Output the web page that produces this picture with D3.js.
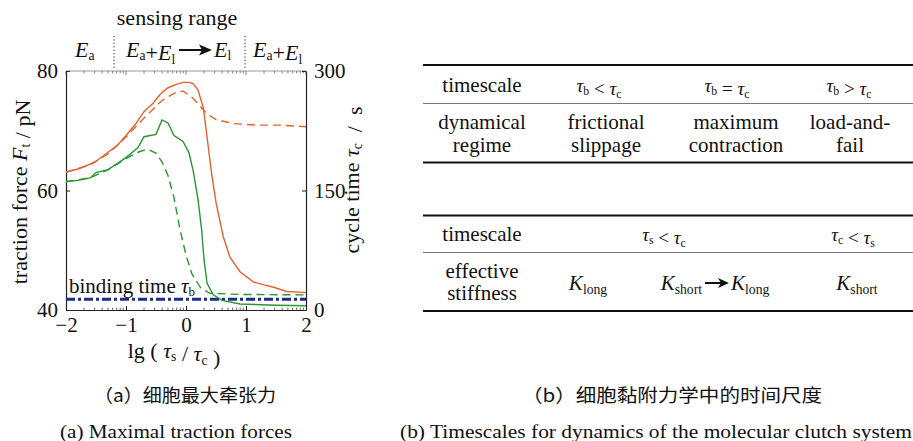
<!DOCTYPE html>
<html>
<head>
<meta charset="utf-8">
<script src="https://cdn.jsdelivr.net/npm/d3@7"></script>
<style>
  body { margin: 0; background: #fff; }
</style>
</head>
<body>
<script>
// ---- data ----
var lgOrange    = [-2,-1.8,-1.6,-1.5,-1.3,-1.15,-1.0,-0.85,-0.7,-0.55,-0.43,-0.3,-0.15,-0.05,0.05,0.12,0.2,0.29,0.34,0.43,0.5,0.62,0.73,0.9,1.12,1.3,1.46,1.68,2]
var forceOrange = [63.1,63.6,64.4,64.9,66.4,67.5,69.2,71.0,73.2,74.6,76.1,77.2,77.8,78.1,78.1,77.9,76.8,73.8,69.8,62.6,58.0,52.3,48.9,46.4,44.7,44.2,43.8,43.1,42.9]

var lgOrangeDash    = [-2,-1.6,-1.3,-1.0,-0.7,-0.4,-0.2,-0.05,0.1,0.2,0.35,0.5,0.8,1.2,1.6,2]
var cycleOrange     = [173,182,196,217,241,263,272,275,267,259,246,239,234,232,232,230]

var lgGreen    = [-2,-1.8,-1.6,-1.5,-1.3,-1.0,-0.8,-0.7,-0.5,-0.4,-0.3,-0.2,-0.05,0.05,0.12,0.2,0.26,0.3,0.35,0.45,0.6,0.9,1.5,2]
var forceGreen = [61.5,61.7,62.1,63.0,63.5,65.5,67.2,69.0,69.4,71.8,71.3,69.2,68.2,66.3,63.3,58.5,53.5,48.5,44.5,42.6,41.6,41.0,40.8,40.7]

var lgGreenDash = [-2,-1.6,-1.3,-1.0,-0.8,-0.65,-0.5,-0.4,-0.3,-0.2,-0.1,0,0.1,0.25,0.4,0.9,2]
var cycleGreen  = [161,166,176,190,198,202,197,186,169,141,101,69,45,27,21,19.5,19]

var lgBinding = [-2, 2]
var bindingTime = [13.5, 13.5]

var xTicks = [-2,-1,0,1,2]
var yLeftTicks = [40,60,80]
var yRightTicks = [0,150,300]

// table contents
var table1Rows = [["dynamical","regime"], ["frictional","slippage"], ["maximum","contraction"], ["load-and-","fail"]]

var SERIF = "'Liberation Serif', 'Times New Roman', Times, serif"
var NB = "\u00a0"
var W = 913, H = 441
var svg = d3.select("body").append("svg").attr("width", W).attr("height", H)
    .style("font-family", SERIF)

var x  = d3.scaleLinear().domain([-2, 2]).range([66, 306])
var yL = d3.scaleLinear().domain([40, 80]).range([310, 71])
var yR = d3.scaleLinear().domain([0, 300]).range([310, 71])

var orange = "#e4622e", green = "#2a9632", navy = "#1b2c8c"

// ---- frame + axes ----
var fs = 21
svg.append("line").attr("x1", x(-2)).attr("x2", x(2)).attr("y1", yL(80)).attr("y2", yL(80))
    .attr("stroke", "#999").attr("stroke-width", 1.2)

// minor ticks top & bottom (log spaced within each unit)
var minor = []
for (var n = -2; n < 2; n++) for (var k = 2; k <= 9; k++) minor.push(n + Math.log10(k))
var tickG = svg.append("g")
minor.forEach(function (m) {
    tickG.append("line").attr("x1", x(m)).attr("x2", x(m)).attr("y1", yL(40)).attr("y2", yL(40) - 2.5).attr("stroke", "#444").attr("stroke-width", 0.8)
    tickG.append("line").attr("x1", x(m)).attr("x2", x(m)).attr("y1", yL(80)).attr("y2", yL(80) + 2.5).attr("stroke", "#666").attr("stroke-width", 0.8)
})
xTicks.forEach(function (t) {
    tickG.append("line").attr("x1", x(t)).attr("x2", x(t)).attr("y1", yL(80)).attr("y2", yL(80) + 4).attr("stroke", "#666").attr("stroke-width", 0.8)
})

var fmt = d3.format("d")
var xAxis = d3.axisBottom(x).tickValues(xTicks).tickFormat(fmt).tickSizeInner(-4).tickSizeOuter(0).tickPadding(7)
var yAxisL = d3.axisLeft(yL).tickValues(yLeftTicks).tickFormat(fmt).tickSizeInner(-4).tickSizeOuter(0).tickPadding(8)
var yAxisR = d3.axisRight(yR).tickValues(yRightTicks).tickFormat(fmt).tickSizeInner(-4).tickSizeOuter(0).tickPadding(8)

function styleAxis(g) {
    g.attr("font-family", null).attr("font-size", null)
    g.selectAll("path").attr("stroke", "#222").attr("stroke-width", 1.2)
    g.selectAll("line").attr("stroke", "#222")
    g.selectAll("text").style("font-family", SERIF).style("font-size", "21px").attr("fill", "#111")
}
svg.append("g").attr("transform", "translate(0," + yL(40) + ")").call(xAxis).call(styleAxis)
svg.append("g").attr("transform", "translate(" + x(-2) + ",0)").call(yAxisL).call(styleAxis)
svg.append("g").attr("transform", "translate(" + x(2) + ",0)").call(yAxisR).call(styleAxis)

// ---- curves ----
function zip(a, b) { return a.map(function (d, i) { return [d, b[i]] }) }
var lineL = d3.line().x(function (d) { return x(d[0]) }).y(function (d) { return yL(d[1]) })
var lineR = d3.line().x(function (d) { return x(d[0]) }).y(function (d) { return yR(d[1]) })

svg.append("path").attr("d", lineR(zip(lgBinding, bindingTime)))
    .attr("fill", "none").attr("stroke", navy).attr("stroke-width", 3).attr("stroke-dasharray", "9,3,3,3")
svg.append("path").attr("d", lineR(zip(lgOrangeDash, cycleOrange)))
    .attr("fill", "none").attr("stroke", orange).attr("stroke-width", 1.4).attr("stroke-dasharray", "8,5")
svg.append("path").attr("d", lineR(zip(lgGreenDash, cycleGreen)))
    .attr("fill", "none").attr("stroke", green).attr("stroke-width", 1.4).attr("stroke-dasharray", "8,5")
svg.append("path").attr("d", lineL(zip(lgOrange, forceOrange)))
    .attr("fill", "none").attr("stroke", orange).attr("stroke-width", 1.4)
svg.append("path").attr("d", lineL(zip(lgGreen, forceGreen)))
    .attr("fill", "none").attr("stroke", green).attr("stroke-width", 1.4)

// ---- text helpers ----
function sub(t, main, s, italic) {
    t.append("tspan").attr("font-style", italic ? "italic" : null).text(main)
    t.append("tspan").attr("font-size", "0.62em").attr("dy", "0.25em").text(s)
    t.append("tspan").attr("dy", "-0.25em").text("")
}
function txt(xx, yy, size) {
    return svg.append("text").style("font-family", SERIF).style("font-size", (size || fs) + "px")
        .attr("fill", "#111").attr("x", xx).attr("y", yy)
}

var lab = txt(69, 293)
lab.append("tspan").text("binding time ")
sub(lab, "τ", "b", true)

// axis titles
var lt = txt(0, 0, 22).attr("text-anchor", "middle").attr("transform", "translate(27,192) rotate(-90)")
lt.append("tspan").text("traction force ")
sub(lt, "F", "t", true)
lt.append("tspan").text(NB + "/" + NB + "pN")

var rt = txt(0, 0, 22).attr("text-anchor", "middle").attr("transform", "translate(359,180) rotate(-90)")
rt.append("tspan").text("cycle time ")
sub(rt, "τ", "c", true)
rt.append("tspan").text(NB + NB + "/" + NB + NB + "s")

var bt = txt(174, 358, 22).attr("text-anchor", "middle")
bt.append("tspan").text("lg" + NB + "(" + NB)
sub(bt, "τ", "s", true)
bt.append("tspan").text(NB + "/" + NB)
sub(bt, "τ", "c", true)
bt.append("tspan").text(NB + ")")

// sensing range header
txt(177, 25, 22).attr("text-anchor", "middle").text("sensing range")
;[114, 245].forEach(function (xx) {
    svg.append("line").attr("x1", xx).attr("x2", xx).attr("y1", 36).attr("y2", 70)
        .attr("stroke", "#222").attr("stroke-width", 1).attr("stroke-dasharray", "1.2,2.2")
})
var h1 = txt(75, 57, 22)
sub(h1, "E", "a", true)
var h2 = txt(126, 57, 22)
sub(h2, "E", "a", true); h2.append("tspan").text("+"); sub(h2, "E", "l", true)
svg.append("path").attr("d", "M179,50 L202,50").attr("stroke", "#111").attr("stroke-width", 2)
svg.append("path").attr("d", "M199,44.5 L212,50 L199,55.5 L202,50 Z").attr("fill", "#111")
var h3 = txt(214, 57, 22)
sub(h3, "E", "l", true)
var h4 = txt(253, 57, 22)
sub(h4, "E", "a", true); h4.append("tspan").text("+"); sub(h4, "E", "l", true)

// ---- tables ----
var tx0 = 423, tx1 = 913
var tfs = 21
function rule(y, thick) {
    svg.append("line").attr("x1", tx0).attr("x2", tx1).attr("y1", y).attr("y2", y)
        .attr("stroke", thick ? "#111" : "#777").attr("stroke-width", thick ? 2 : 1)
}
function cellText(cx, cy, size) {
    return txt(cx, cy, size || tfs).attr("text-anchor", "middle")
}
function tauRel(cx, cy, a, op, b) {
    var t = cellText(cx, cy, 19)
    sub(t, "τ", a, true)
    t.append("tspan").text(op)
    sub(t, "τ", b, true)
}
function kSub(t, s) {
    t.append("tspan").attr("font-style", "italic").text("K")
    t.append("tspan").attr("font-size", "0.65em").attr("dy", "0.3em").text(s)
    t.append("tspan").attr("dy", "-0.3em").text("")
}

rule(65, true); rule(103.5, false); rule(162.5, true)
cellText(482, 92).text("timescale")
tauRel(599, 92, "b", " < ", "c")
tauRel(727, 92, "b", " = ", "c")
tauRel(849, 92, "b", " > ", "c")
var colX = [482, 606, 736, 850]
table1Rows.forEach(function (c, i) {
    cellText(colX[i], 129).text(c[0])
    cellText(colX[i], 152).text(c[1])
})

rule(215.5, true); rule(252.5, false); rule(311, true)
cellText(482, 241).text("timescale")
tauRel(664, 241, "s", " < ", "c")
tauRel(853, 241, "c", " < ", "s")
cellText(482, 278).text("effective")
cellText(482, 300).text("stiffness")
var k1 = cellText(588, 290); kSub(k1, "long")
var k2 = cellText(702, 290).attr("text-anchor", "end"); kSub(k2, "short")
svg.append("path").attr("d", "M705,283 L721,283").attr("stroke", "#111").attr("stroke-width", 2)
svg.append("path").attr("d", "M718,278 L729,283 L718,288 L721,283 Z").attr("fill", "#111")
var k3 = cellText(731, 290).attr("text-anchor", "start"); kSub(k3, "long")
var k4 = cellText(857, 290); kSub(k4, "short")

// ---- captions ----
function caption(cx, cy, t, w, cjk) {
    svg.append("text").style("font-size", "18px").attr("text-anchor", "middle").attr("fill", "#111")
        .style("font-family", cjk ? "'Noto Sans CJK SC', sans-serif" : SERIF)
        .attr("x", cx).attr("y", cy).attr("textLength", w).attr("lengthAdjust", "spacingAndGlyphs").text(t)
}
caption(185, 402, "（a）细胞最大牵张力", 182, true)
caption(672, 402, "（b）细胞黏附力学中的时间尺度", 300, true)
caption(176, 438, "(a)  Maximal traction forces", 232, false)
caption(656, 438, "(b)  Timescales for dynamics of the molecular clutch system", 512, false)
</script>
</body>
</html>
